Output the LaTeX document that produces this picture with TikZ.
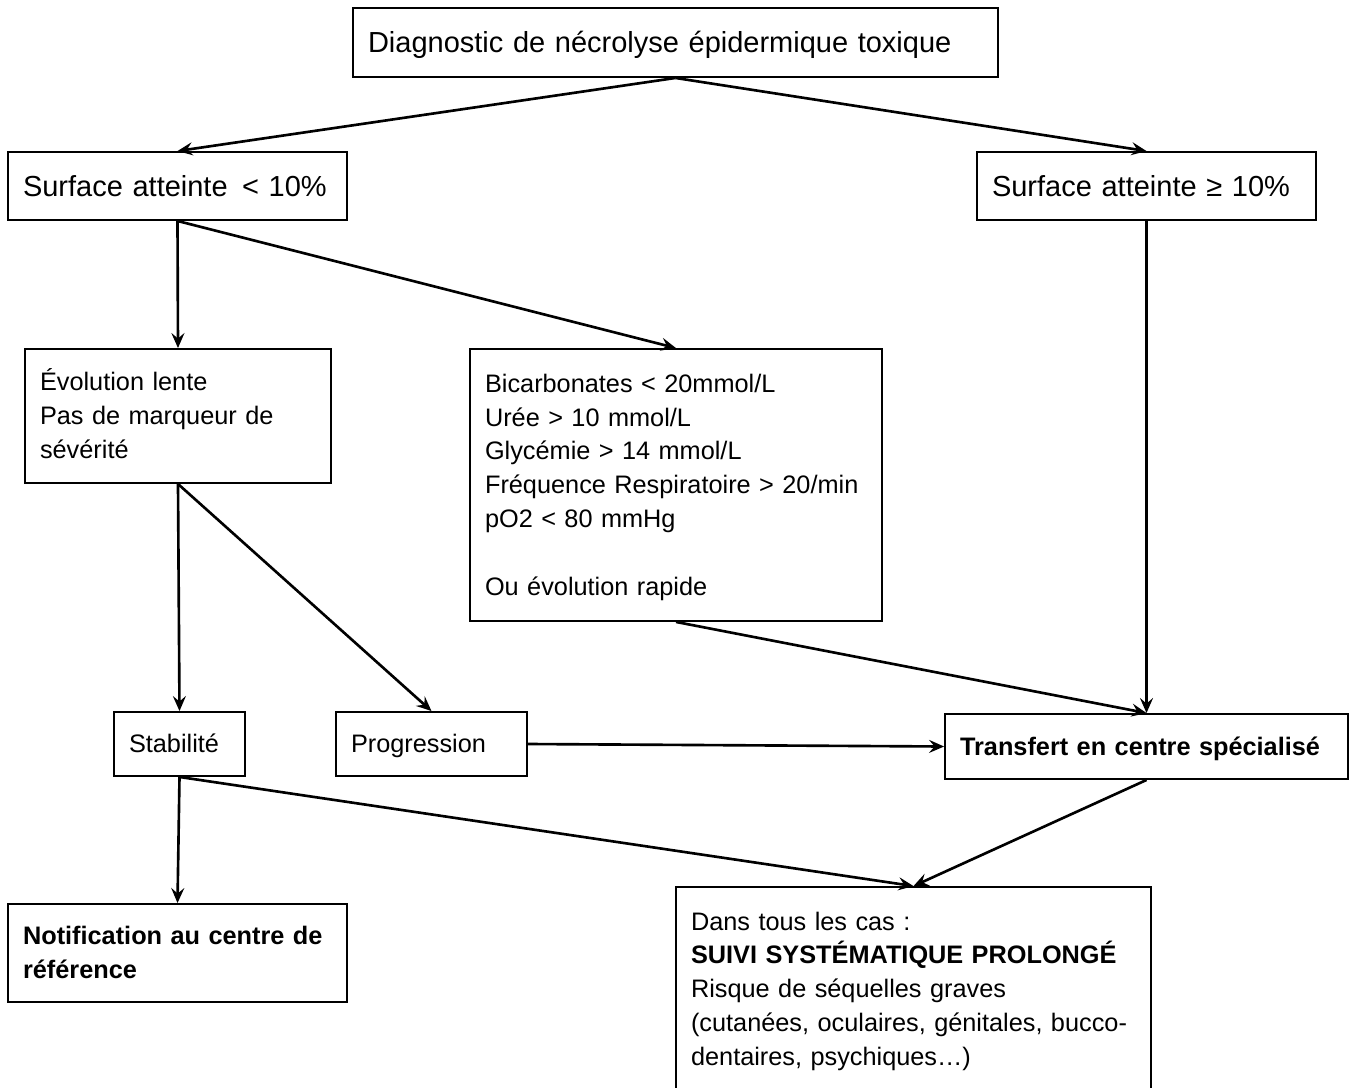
\documentclass[tikz,border=0pt]{standalone}
\usepackage{fontspec}
\setmainfont{Liberation Sans}
\usetikzlibrary{arrows.meta}
\begin{document}
\begin{tikzpicture}[x=0.02cm, y=-0.02cm, line width=1.5pt,
             main/.style = {draw, line width=1.1pt, align=left, inner xsep=0.3cm, inner ysep=0pt,
                            font=\fontsize{14.4pt}{19.3pt}\selectfont,
                            execute at begin node={\rule{0pt}{\dimexpr0.3\baselineskip+0.7em\relax}},
                            execute at end node={\rule[-0.3\baselineskip]{0pt}{0.3\baselineskip}}},
             top/.style = {main, font=\fontsize{16.5pt}{21pt}\selectfont},
             >={Stealth[length=0.3cm, width=0.26cm, inset=0.11cm]}]
            \useasboundingbox (0,0) rectangle (1355,1088);

            % Noeuds du haut
            \node[top, text width=12.3cm, minimum height=1.38cm] (1) at (675.5,42.5) {Diagnostic de nécrolyse épidermique toxique};
            \node[top, text width=6.18cm, minimum height=1.36cm] (2) at (177.5,186) {Surface atteinte \,< 10\%};
            \node[top, text width=6.18cm, minimum height=1.36cm] (3) at (1146.5,186) {Surface atteinte ≥ 10\%};

            % Noeuds du milieu
            \node[main, text width=5.52cm, minimum height=2.68cm] (4) at (178,416) {Évolution lente\\Pas de marqueur de\\sévérité};
            \node[main, text width=7.64cm, minimum height=5.44cm] (5) at (676,485) {Bicarbonates < 20mmol/L\\Urée > 10 mmol/L\\Glycémie > 14 mmol/L\\Fréquence Respiratoire > 20/min\\pO2 < 80 mmHg\\~\\Ou évolution rapide};

            % Noeuds du bas
            \node[main, text width=2.02cm, minimum height=1.28cm] (6) at (179.5,744) {Stabilité};
            \node[main, text width=3.22cm, minimum height=1.28cm] (7) at (431.5,744) {Progression};
            \node[main, text width=7.46cm, minimum height=1.3cm] (8) at (1146.5,746.5) {\textbf{Transfert en centre spécialisé}};
            \node[main, text width=6.18cm, minimum height=1.96cm] (9) at (177.5,953) {\textbf{Notification au centre de}\\\textbf{référence}};
            \node[main, text width=8.9cm, minimum height=4.08cm] (10) at (913.5,989) {Dans tous les cas :\\\textbf{SUIVI SYSTÉMATIQUE PROLONGÉ}\\Risque de séquelles graves\\(cutanées, oculaires, génitales, bucco-\\dentaires, psychiques…)};

            % Fleches
            \draw[->] (1.south) -- (2.north);
            \draw[->] (1.south) -- (3.north);
            \draw[->] (2.south) -- (4.north);
            \draw[->] (2.south) -- (5.north);
            \draw[->] (3.south) -- (8.north);
            \draw[->] (4.south) -- (6.north);
            \draw[->] (4.south) -- (7.north);
            \draw[->] (5.south) -- (8.north);
            \draw[->] (7.east) -- (8.west);
            \draw[->] (6.south) -- (9.north);
            \draw[->] (6.south) -- (10.north);
            \draw[->] (8.south) -- (10.north);
        \end{tikzpicture}
\end{document}
